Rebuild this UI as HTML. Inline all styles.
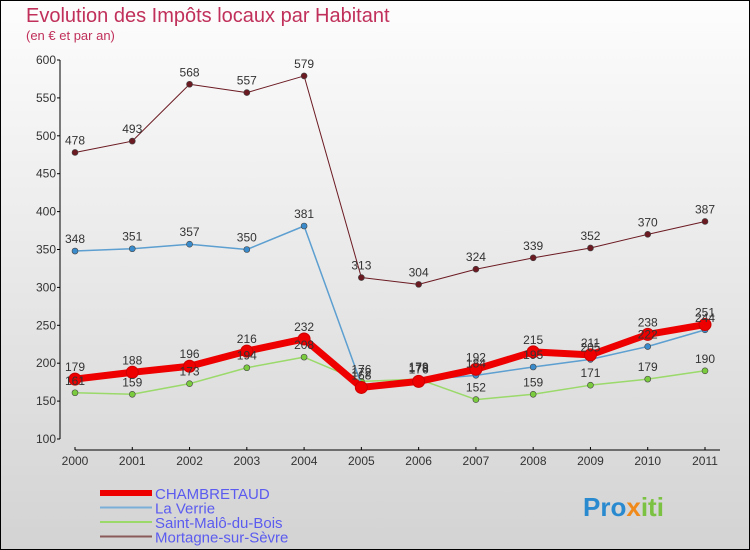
<!DOCTYPE html>
<html><head><meta charset="utf-8"><style>
html,body{margin:0;padding:0}
body{width:750px;height:550px;overflow:hidden;font-family:"Liberation Sans",sans-serif}
#wrap{position:absolute;left:0;top:0;width:748px;height:548px;border:1px solid #000;background:linear-gradient(#fdfdfd,#d3d3d3)}
svg{position:absolute;left:0;top:0}
</style></head><body>
<div id="wrap"></div>
<svg id="chart" width="750" height="550">
<text x="26" y="22" font-size="20" fill="#c0305a">Evolution des Impôts locaux par Habitant</text>
<text x="26" y="40" font-size="13" fill="#c0305a">(en € et par an)</text>
</svg>
<script>
const years=["2000","2001","2002","2003","2004","2005","2006","2007","2008","2009","2010","2011"];
const yTicks=[100,150,200,250,300,350,400,450,500,550,600];
const chambretaud=[179,188,196,216,232,168,176,192,215,211,238,251];
const laVerrie=[348,351,357,350,381,172,178,184,195,205,222,244];
const saintMalo=[161,159,173,194,208,176,179,152,159,171,179,190];
const mortagne=[478,493,568,557,579,313,304,324,339,352,370,387];
const NS="http://www.w3.org/2000/svg";
const svg=document.getElementById('chart');
const xs=i=>75+i*(630/11);
const ys=v=>60+(600-v)*(379/500);
function mk(t,a,p){const e=document.createElementNS(NS,t);for(const k in a)e.setAttribute(k,a[k]);(p||svg).appendChild(e);return e;}
// axes
let ax=mk('line',{x1:60,y1:60,x2:60,y2:439,stroke:'#000','stroke-width':1});


yTicks.forEach(v=>{
  mk('line',{x1:57,y1:ys(v),x2:60,y2:ys(v),stroke:'#000'});
  const t=mk('text',{x:56,y:ys(v)+4,'text-anchor':'end','font-size':12,fill:'#333'});
  t.textContent=v;
  
  
});
let xa=mk('line',{x1:75,y1:450,x2:720,y2:450,stroke:'#000'});


years.forEach((y,i)=>{
  mk('line',{x1:xs(i),y1:447,x2:xs(i),y2:450,stroke:'#000'});
  const t=mk('text',{x:xs(i),y:465,'text-anchor':'middle','font-size':12,fill:'#333'});
  t.textContent=y;
  
  
});
const series=[
 {name:'mortagne',d:mortagne,c:'#6b1a22',w:1,r:3,f:'#6b1a22'},
 {name:'saint-malo',d:saintMalo,c:'#9ad96a',w:1.5,r:3,f:'#7acb3e'},
 {name:'la-verrie',d:laVerrie,c:'#5c9fd0',w:1.5,r:3,f:'#3a8bcb'},
 {name:'chambretaud',d:chambretaud,c:'#ee0000',w:7,r:6,f:'#ee0000'}
];
series.forEach(s=>{
  const g=mk('g',{});
  
  
  const pl=mk('polyline',{points:s.d.map((v,i)=>xs(i)+','+ys(v)).join(' '),fill:'none',stroke:s.c,'stroke-width':s.w,'stroke-linejoin':'round'},g);
  
  
  s.d.forEach((v,i)=>{
    const c=mk('circle',{cx:xs(i),cy:ys(v),r:s.r,fill:s.f,stroke:s.name==='chambretaud'?'#c00':'#444','stroke-width':s.name==='chambretaud'?1:0.6},g);
    
    
  });
});
series.forEach(s=>{
  s.d.forEach((v,i)=>{
    const t=mk('text',{x:xs(i),y:ys(v)-8,'text-anchor':'middle','font-size':12,fill:'#333'});
    t.textContent=v;
    
    
  });
});
// legend
const leg=[['CHAMBRETAUD','#ee0000',6],['La Verrie','#7ab0d8',2],['Saint-Malô-du-Bois','#9ad96a',2],['Mortagne-sur-Sèvre','#8a5a5a',2]];
leg.forEach((l,i)=>{
  const y=493+i*14.5;
  const ln=mk('line',{x1:100,y1:y,x2:152,y2:y,stroke:l[1],'stroke-width':l[2]});
  
  
  const t=mk('text',{x:155,y:y+6,'font-size':15,fill:'#5b5bf0'});
  t.textContent=l[0];
  
  
});
const logo=mk('text',{x:583,y:516,'font-size':26,'font-weight':'bold',fill:'#2a8ad0'});


[['Pro','#2a8ad0'],['x','#f08a1a'],['iti','#7cc242']].forEach(p=>{const ts=mk('tspan',{fill:p[1]},logo);ts.textContent=p[0];});
</script>
</body></html>
